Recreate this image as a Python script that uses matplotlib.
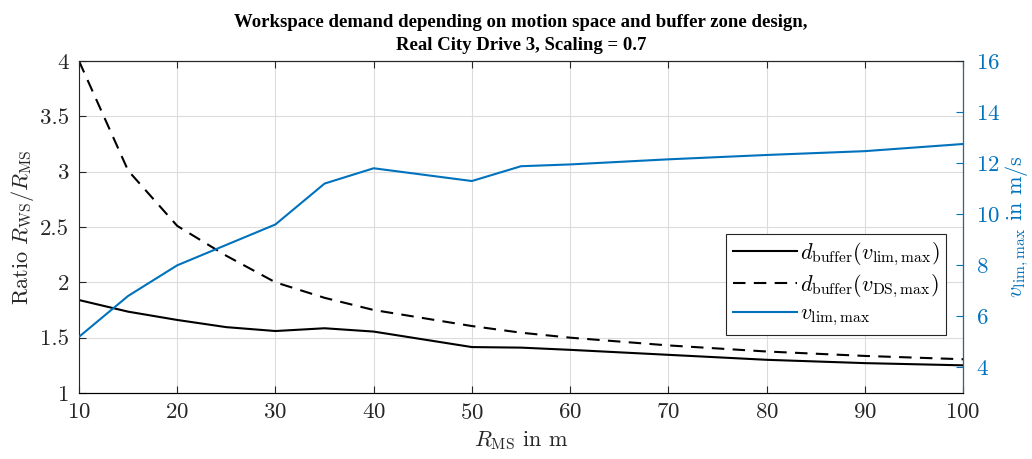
import numpy as np
import matplotlib
matplotlib.use("Agg")
import matplotlib.pyplot as plt

# data
r_ms = [10, 15, 20, 25, 30, 35, 40, 50, 55, 60, 70, 80, 90, 100]
ratio_vlim = [1.84, 1.735, 1.66, 1.595, 1.56, 1.585, 1.555, 1.415, 1.41, 1.39, 1.345, 1.30, 1.27, 1.25]
ratio_vds = [4.0, 3.01, 2.51, 2.24, 2.0, 1.86, 1.75, 1.605, 1.545, 1.50, 1.43, 1.375, 1.335, 1.305]
v_lim_max = [5.2, 6.8, 8.0, 8.8, 9.6, 11.2, 11.8, 11.3, 11.88, 11.95, 12.15, 12.32, 12.47, 12.75]

x_ticks = list(range(10, 101, 10))
y1_ticks = [1, 1.5, 2, 2.5, 3, 3.5, 4]
y2_ticks = [4, 6, 8, 10, 12, 14, 16]

blue = '#0072BD'
dark = '#262626'

plt.rcParams['font.family'] = ['cmr10', 'DejaVu Serif']
plt.rcParams['mathtext.fontset'] = 'cm'
plt.rcParams['axes.formatter.use_mathtext'] = True

fig = plt.figure(figsize=(10.32, 4.59), dpi=100)
ax = fig.add_axes([79/1032, 66/459, 884/1032, 332/459])

l1, = ax.plot(r_ms, ratio_vlim, color='black', lw=1.5,
              label=r'$d_{\mathrm{buffer}}(v_{\mathrm{lim,max}})$')
l2, = ax.plot(r_ms, ratio_vds, color='black', lw=1.5, ls=(0, (6, 4)),
              label=r'$d_{\mathrm{buffer}}(v_{\mathrm{DS,max}})$')

ax.set_xlim(10, 100)
ax.set_ylim(1, 4)
ax.set_xticks(x_ticks)
ax.set_yticks(y1_ticks)
ax.set_yticklabels(['1', '1.5', '2', '2.5', '3', '3.5', '4'])
ax.grid(True, color='#dcdcdc', lw=0.8)
ax.set_axisbelow(True)
ax.tick_params(direction='in', length=5, labelsize=16.5, colors=dark, top=True, right=False, pad=7)
for s in ['left', 'bottom', 'top']:
    ax.spines[s].set_color(dark)
ax.set_xlabel(r'$R_{\mathrm{MS}}$ in m', fontsize=16, color=dark, labelpad=5)
ax.set_ylabel(r'Ratio $R_{\mathrm{WS}}/R_{\mathrm{MS}}$', fontsize=16, color=dark, labelpad=3)

ax2 = ax.twinx()
l3, = ax2.plot(r_ms, v_lim_max, color=blue, lw=1.5, label=r'$v_{\mathrm{lim,max}}$')
ax2.set_ylim(3, 16)
ax2.set_yticks(y2_ticks)
ax2.tick_params(direction='in', length=5, labelsize=16.5, colors=blue, pad=9)
ax2.spines['right'].set_color(blue)
ax2.spines['left'].set_visible(False)
ax2.spines['top'].set_color(dark)
ax2.set_ylabel(r'$v_{\mathrm{lim,max}}$ in m/s', fontsize=16, color=blue, labelpad=3)

leg = ax2.legend(handles=[l1, l2, l3], loc='upper right', bbox_to_anchor=(0.981, 0.479),
                 fontsize=16, fancybox=False, framealpha=1, edgecolor=dark,
                 handlelength=2.9, borderpad=0.28, labelspacing=0.2, handletextpad=0.15,
                 borderaxespad=0)
leg.get_frame().set_linewidth(0.8)

ax.set_title('Workspace demand depending on motion space and buffer zone design,\n'
             'Real City Drive 3, Scaling = 0.7',
             fontfamily='Liberation Serif', fontweight='bold', fontsize=13.5,
             linespacing=1.45, pad=8)

fig.savefig('out.png', dpi=100)
